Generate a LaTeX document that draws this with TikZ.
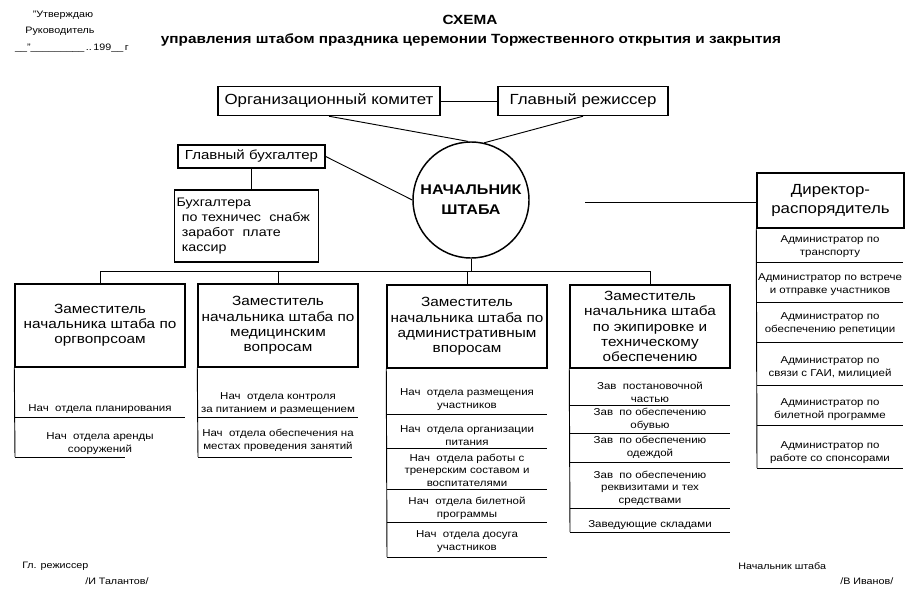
\documentclass[tikz,border=0pt]{standalone}
\usepackage{fontspec}
\setmainfont{Liberation Sans}[FakeStretch=1.15]
\usetikzlibrary{calc}

\begin{document}
\begin{tikzpicture}[x=0.75pt,y=0.75pt,yscale=-1,xscale=1,
  box/.style={draw, line width=1.1pt, inner sep=0pt, align=center},
  bigtext/.style={font=\fontsize{11}{14}\selectfont},
  deptext/.style={font=\fontsize{10}{11.4}\selectfont},
  item/.style={anchor=south, align=center, inner sep=0pt, font=\fontsize{7.5}{9.6}\selectfont},
  note/.style={anchor=west, inner sep=0pt, font=\fontsize{7}{8}\selectfont},
  conn/.style={line width=0.7pt},
  sep/.style={line width=0.7pt}]
\useasboundingbox (0,0) rectangle (913,600);

% Text Node
\node[inner sep=0pt, font=\fontsize{7}{8}\selectfont] (approve) at (63,15) {"Утверждаю};
% Text Node
\node[inner sep=0pt, font=\fontsize{7}{8}\selectfont] (head) at (60,31) {Руководитель};
% Text Node
\node[inner sep=0pt, font=\fontsize{7}{8}\selectfont] (datefld) at (72,48) {\_\_"\_\_\_\_\_\_\_\_\_\,..\,199\_\_\,г};
% Text Node
\node[inner sep=0pt, font=\bfseries\fontsize{10}{12}\selectfont] (title) at (470,20) {СХЕМА};
% Text Node
\node[inner sep=0pt, font=\bfseries\fontsize{10}{12}\selectfont] (subtitle) at (471,40) {управления штабом праздника церемонии Торжественного открытия и закрытия};

%Shape: Rectangle
\node[box, bigtext, minimum width=166.5pt, minimum height=21.75pt] (orgcom) at (329,101) {Организационный комитет};
%Shape: Rectangle
\node[box, bigtext, minimum width=127.5pt, minimum height=21.75pt] (glrezh) at (583,101) {Главный режиссер};
%Shape: Circle
\node[circle, draw, line width=1.1pt, minimum size=87pt, inner sep=0pt, align=center,
  font=\bfseries\fontsize{10.5}{15}\selectfont] (chief) at (471,200) {НАЧАЛЬНИК\\ШТАБА};
%Shape: Rectangle
\node[box, font=\fontsize{9.8}{11}\selectfont, minimum width=110.25pt, minimum height=17.25pt] (glbuh) at (251.5,156.5) {Главный бухгалтер};
%Shape: Rectangle
\node[box, line width=0.9pt, align=left, text width=105pt, inner xsep=1.5pt, inner ysep=3pt, minimum height=54pt,
  font=\fontsize{9.3}{11.25}\selectfont] (buh) at (246.5,226) {Бухгалтера\\
  \hspace*{4pt}по техничес\ \ снабж\\
  \hspace*{4pt}заработ\ \ плате\\
  \hspace*{4pt}кассир};
%Shape: Rectangle
\node[box, bigtext, minimum width=110.25pt, minimum height=41.25pt] (dir) at (830.5,200.5) {Директор-\\распорядитель};

%Shape: Rectangle
\node[box, deptext, minimum width=127.5pt, minimum height=62.25pt] (dep1) at (100,325.5) {Заместитель\\начальника штаба по\\оргвопрсоам};
%Shape: Rectangle
\node[box, deptext, minimum width=120pt, minimum height=62.25pt] (dep2) at (278,325.5) {Заместитель\\начальника штаба по\\медицинским\\вопросам};
%Shape: Rectangle
\node[box, deptext, minimum width=120pt, minimum height=62.25pt] (dep3) at (467,326.5) {Заместитель\\начальника штаба по\\административным\\впоросам};
%Shape: Rectangle
\node[box, deptext, minimum width=120pt, minimum height=62.25pt] (dep4) at (650,326.5) {Заместитель\\начальника штаба\\по экипировке и\\техническому\\обеспечению};

\coordinate (bus) at (0,271);
\coordinate (gap) at (585,202);

%Straight Lines
\draw[conn] (orgcom) -- (glrezh);
\draw[conn] (orgcom.south) -- (chief.93);
\draw[conn] (glrezh.south) -- (chief.77);
\draw[conn] (glbuh.east) -- (chief.west);
\draw[conn] (glbuh.south) -- (glbuh.south |- buh.north);
\draw[conn] (gap) -- (gap -| dir.west);
\draw[conn] (chief.south) -- (chief.south |- bus);
\draw[conn] (dep1.north) |- (bus -| dep4.north) -- (dep4.north);
\draw[conn] (dep2.north) -- (dep2.north |- bus);
\draw[conn] (dep3.north) -- (dep3.north |- bus);

%Straight Lines
\draw[sep] (dep1.south west) -- (15,457);
\draw[sep] (15,417) -- (185,417);
\draw[sep] (15,457) -- (125,457);
\draw[sep] (dep2.south west) -- (198,457);
\draw[sep] (198,417) -- (358,417);
\draw[sep] (198,457) -- (352,457);
\draw[sep] (dep3.south west) -- (387,557);
\foreach \y in {414,448,489,522,557} \draw[sep] (387,\y) -- (547,\y);
\draw[sep] (dep4.south west) -- (570,532);
\foreach \y in {405,433,462,508,532} \draw[sep] (570,\y) -- (730,\y);
\draw[sep] (dir.south west) -- (757,468);
\foreach \y in {262,302,342,385,425,468} \draw[sep] (757,\y) -- (903,\y);

% Text Node
\node[item] (d1a) at (100,414) {Нач\ \ отдела планирования};
\node[item] (d1b) at (100,455) {Нач\ \ отдела аренды\\сооружений};
% Text Node
\node[item] (d2a) at (278,415) {Нач\ \ отдела контроля\\за питанием и размещением};
\node[item] (d2b) at (278,452) {Нач\ \ отдела обеспечения на\\местах проведения занятий};
% Text Node
\node[item] (d3a) at (467,411) {Нач\ \ отдела размещения\\участников};
\node[item] (d3b) at (467,446) {Нач\ \ отдела организации\\питания};
\node[item] (d3c) at (467,487) {Нач\ \ отдела работы с\\тренерским составом и\\воспитателями};
\node[item] (d3d) at (467,520) {Нач\ \ отдела билетной\\программы};
\node[item] (d3e) at (467,553) {Нач\ \ отдела досуга\\участников};
% Text Node
\node[item] (d4a) at (650,403) {Зав\ \ постановочной\\частью};
\node[item] (d4b) at (650,431) {Зав\ \ по обеспечению\\обувью};
\node[item] (d4c) at (650,459) {Зав\ \ по обеспечению\\одеждой};
\node[item] (d4d) at (650,506) {Зав\ \ по обеспечению\\реквизитами и тех\\средствами};
\node[item] (d4e) at (650,530) {Заведующие складами};
% Text Node
\node[item] (a1) at (830,258) {Администратор по\\транспорту};
\node[item] (a2) at (830,296) {Администратор по встрече\\и отправке участников};
\node[item] (a3) at (830,335) {Администратор по\\обеспечению репетиции};
\node[item] (a4) at (830,379) {Администратор по\\связи с ГАИ, милицией};
\node[item] (a5) at (830,421) {Администратор по\\билетной программе};
\node[item] (a6) at (830,464) {Администратор по\\работе со спонсорами};

% Text Node
\node[note] (sign1) at (22,566) {Гл. режиссер};
\node[note] (name1) at (85,581) {/И Талантов/};
\node[note] (sign2) at (738,566) {Начальник штаба};
\node[note] (name2) at (840,581) {/В Иванов/};
\end{tikzpicture}
\end{document}
